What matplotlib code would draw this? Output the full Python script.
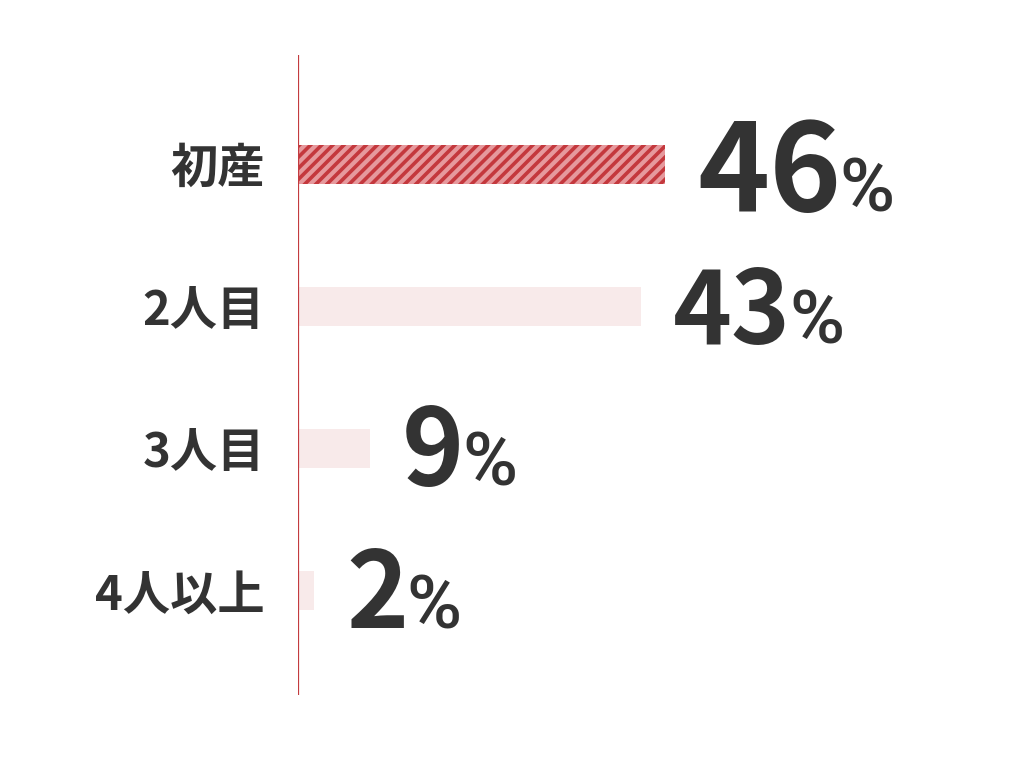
import matplotlib
matplotlib.use("Agg")
import matplotlib.pyplot as plt

plt.rcParams['font.family'] = ['Noto Sans CJK JP', 'DejaVu Sans']
plt.rcParams['hatch.linewidth'] = 2.6

# data
categories = ['初産', '2人目', '3人目', '4人以上']
values = [46, 43, 9, 2]
value_sizes = [88, 72, 76, 76]   # first value is emphasised

red = '#C33B3F'
pink = '#F8EAEA'
text_col = '#333333'
DPI = 100

fig = plt.figure(figsize=(10.17, 7.6), dpi=DPI)
ax = fig.add_axes([0.293, 0.0855, 0.706, 0.842])

ypos = list(range(len(categories)))
bars = ax.barh(ypos, values, height=0.274, color=pink, edgecolor='none')
bars[0].set_facecolor('#E6999D')
bars[0].set_hatch('///')
bars[0].set_edgecolor('#C4383D')
bars[0].set_linewidth(0)

ax.set_xlim(0, 90)
ax.set_ylim(3.734, -0.766)
ax.axvline(0, color=red, lw=1.6, zorder=5)

for s in ax.spines.values():
    s.set_visible(False)
ax.set_xticks([])
ax.set_yticks(ypos)
ax.set_yticklabels(categories, fontsize=34, fontweight='bold', color=text_col)
ax.tick_params(axis='y', length=0, pad=24)

# value labels: big number + smaller percent sign
nums = []
for i, (v, fs) in enumerate(zip(values, value_sizes)):
    dy = -34 if i == 0 else -27
    t = ax.annotate(str(v), xy=(v, i), xytext=(23, dy), textcoords='offset points',
                    fontsize=fs, fontweight='bold', color=text_col,
                    ha='left', va='baseline')
    nums.append((t, dy))

fig.canvas.draw()
renderer = fig.canvas.get_renderer()
for (t, dy), v, i in zip(nums, values, ypos):
    bb = t.get_window_extent(renderer)
    x0 = ax.transData.transform((v, i))[0]
    dx = (bb.x1 - x0) * 72 / DPI - 1
    ax.annotate('%', xy=(v, i), xytext=(dx, dy), textcoords='offset points',
                fontsize=54, fontweight='medium', color=text_col,
                family=['Roboto', 'DejaVu Sans'],
                ha='left', va='baseline')

fig.savefig('out.png', dpi=DPI, facecolor='white')
